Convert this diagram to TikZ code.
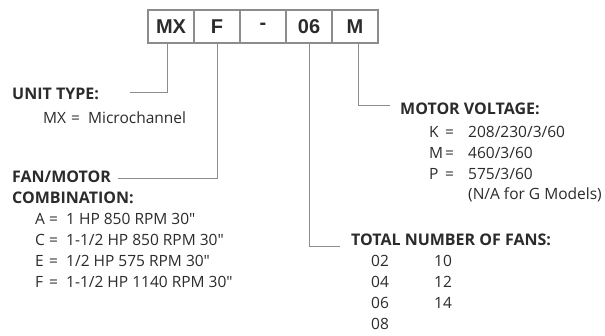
\documentclass[tikz,border=0pt]{standalone}
\usepackage{fontspec}
\setmainfont{Open Sans}
\newfontfamily\boxfont{Liberation Sans}
\definecolor{ink}{HTML}{2B2B2B}
\definecolor{rule}{HTML}{8C8C8C}
\newcommand\code[4]{\makebox[#1][l]{#3}\makebox[#2][l]{=}#4}
\newcommand\inch{\textquotedbl}

\begin{document}
\begin{tikzpicture}[x=1pt,y=-1pt,
  cell/.style={draw=rule,line width=1.3pt,minimum width=46pt,minimum height=33pt,
    inner sep=0pt,font=\boxfont\fontsize{20}{20}\selectfont\bfseries,text=ink},
  head/.style={anchor=west,inner sep=0pt,font=\bfseries\fontsize{16}{16}\selectfont,text=ink},
  item/.style={anchor=west,inner sep=0pt,font=\fontsize{15.5}{15.5}\selectfont,text=ink},
  link/.style={draw=rule,line width=0.8pt}]
  \useasboundingbox (0,0) rectangle (605,335);
  % code boxes
  \foreach \t/\n [count=\i] in {MX/mx,F/fm,-/dash,06/fans,M/volt}
    \node[cell] (\n) at (148+46*\i-23,26.5) {\t};
  % unit type
  \node[head] (unit) at (12,94) {UNIT TYPE:};
  \node[item] (unitmx) at (43,118) {\code{28pt}{17pt}{MX}{Microchannel}};
  % fan / motor
  \node[head] (fan) at (12,177) {FAN/MOTOR};
  \node[head] (comb) at (12,198) {COMBINATION:};
  \foreach \l/\v/\y in {A/{1 HP 850 RPM 30\inch}/219,C/{1-1/2 HP 850 RPM 30\inch}/240,
      E/{1/2 HP 575 RPM 30\inch}/261,F/{1-1/2 HP 1140 RPM 30\inch}/282}
    \node[item] (fm\l) at (35,\y) {\code{14pt}{17pt}{\l}{\v}};
  % motor voltage
  \node[head] (mv) at (400,109) {MOTOR VOLTAGE:};
  \foreach \l/\v/\y in {K/{208/230/3/60}/132,M/{460/3/60}/153,P/{575/3/60}/174}
    \node[item] (mv\l) at (429,\y) {\code{16pt}{23pt}{\l}{\v}};
  \node[item] (mvna) at (468,195) {(N/A for G Models)};
  % number of fans
  \node[head] (tot) at (351,240) {TOTAL NUMBER OF FANS:};
  \foreach \a/\b/\y in {02/10/261,04/12/282,06/14/303,08//324}
    {\node[item] (n\a) at (371,\y) {\a}; \node[item] (m\a) at (434,\y) {\b};}
  % leader lines
  \coordinate (unitend) at (130,92);
  \coordinate (fanend) at (118,178);
  \coordinate (mvend) at (390,105);
  \coordinate (totend) at (340,246);
  \draw[link] ([xshift=-4pt]mx.south) |- (unitend);
  \draw[link] (fm.south) |- (fanend);
  \draw[link] ([xshift=3pt]volt.south) |- (mvend);
  \draw[link] (fans.south) |- (totend);
\end{tikzpicture}
\end{document}
